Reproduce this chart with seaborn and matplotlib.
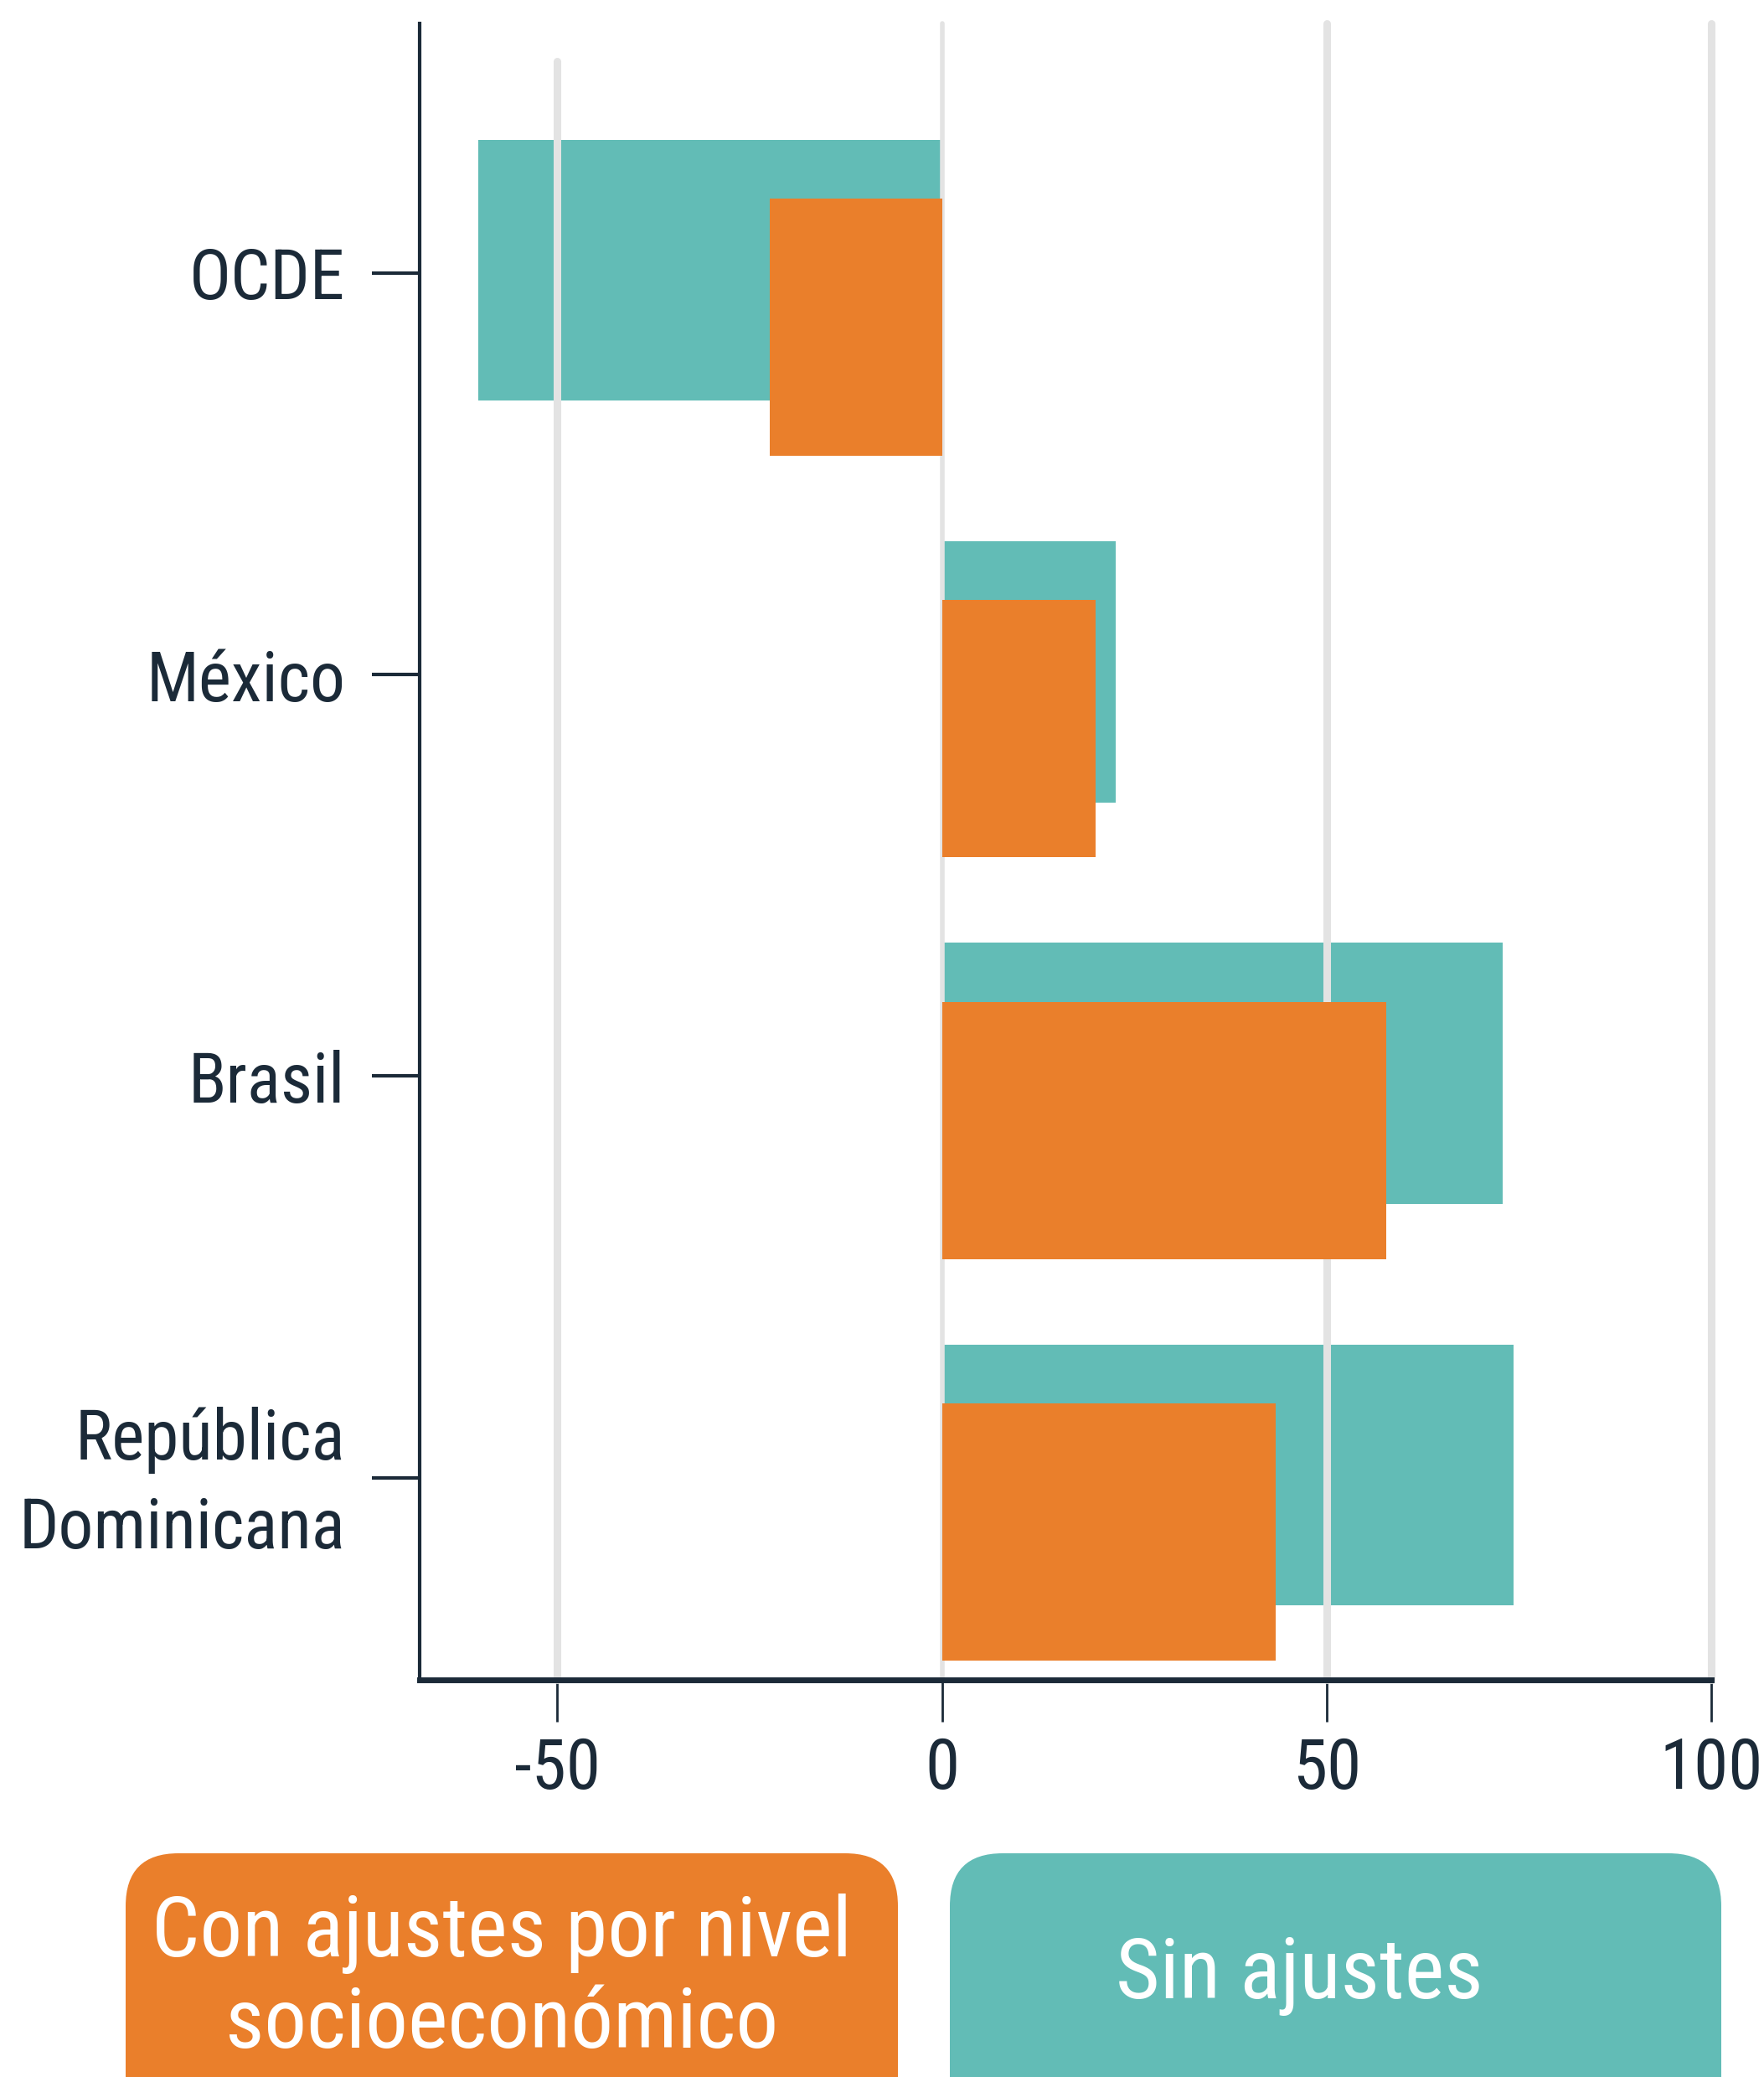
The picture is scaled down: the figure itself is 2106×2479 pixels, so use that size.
import matplotlib
matplotlib.use("Agg")
import matplotlib.pyplot as plt
from matplotlib import font_manager
from matplotlib.patches import FancyBboxPatch
from matplotlib.transforms import ScaledTranslation
import pandas as pd
import seaborn as sns

# data
categories = ["OCDE", "México", "Brasil", "República\nDominicana"]
sin_ajustes = [-60.3, 22.6, 72.9, 74.3]
con_ajustes = [-22.4, 20.0, 57.8, 43.4]
x_ticks = [-50, 0, 50, 100]
legend_labels = ["Con ajustes por nivel\nsocioeconómico", "Sin ajustes"]

teal = "#62bcb6"
orange = "#ea7f2b"
navy = "#1b2a38"
grid_grey = "#e3e3e3"

sns.set_theme(style="white")
names = {f.name for f in font_manager.fontManager.ttflist}
font = next((n for n in ["Roboto Condensed", "Liberation Sans Narrow", "Roboto"] if n in names), "DejaVu Sans")
plt.rcParams["font.family"] = [font, "DejaVu Sans"]

fig = plt.figure(figsize=(21.06, 24.79), dpi=100)
ax = fig.add_axes([0.2379, 0.1912, 0.9701 - 0.2379, 0.9887 - 0.1912])

df = pd.DataFrame({"pais": categories, "sin": sin_ajustes, "con": con_ajustes})
sns.barplot(data=df, x="sin", y="pais", orient="h", color=teal, saturation=1,
            width=0.65, linewidth=0, ax=ax, zorder=1)
sns.barplot(data=df, x="con", y="pais", orient="h", color=orange, saturation=1,
            width=0.64, linewidth=0, ax=ax, zorder=3)
n = len(categories)
for p in ax.patches[:n]:
    p.set_y(p.get_y() - 0.007)
# orange bars sit a bit lower than the teal ones
for p in ax.patches[n:]:
    p.set_y(p.get_y() + 0.135)

# grid lines between the two bar layers
for v in x_ticks:
    ax.axvline(v, color=grid_grey, lw=6.5 if v else 4, zorder=2, clip_on=False,
               ymax=0.977 if v == -50 else 1)

ax.set_xlim(-67.9, 100)
ax.set_ylim(3.503, -0.621)
ax.set_xticks(x_ticks)
ax.set_xticklabels([str(v) for v in x_ticks])
ax.set_xlabel("")
ax.set_ylabel("")

ax.tick_params(axis="y", left=True, length=41, width=3, color=navy, pad=23,
               labelsize=60, labelcolor=navy)
ax.tick_params(axis="x", bottom=True, length=36, width=2, color=navy, pad=12,
               labelsize=60, labelcolor=navy)
ax.xaxis.get_major_ticks()[1].tick1line.set_color(grid_grey)
for lbl in ax.get_yticklabels():
    if "\n" in lbl.get_text():
        lbl.set_linespacing(1.42)
        lbl.set_verticalalignment("center")
        lbl.set_transform(lbl.get_transform() + ScaledTranslation(0, -0.08, fig.dpi_scale_trans))

ax.spines[["top", "right"]].set_visible(False)
ax.spines["left"].set_linewidth(3)
ax.spines["left"].set_color(navy)
ax.spines["bottom"].set_linewidth(5)
ax.spines["bottom"].set_color(navy)

# legend boxes, in pixel coords of the whole figure
lax = fig.add_axes([0, 0, 1, 1])
lax.set_xlim(0, 2106)
lax.set_ylim(2479, 0)
lax.set_axis_off()
lax.add_patch(FancyBboxPatch((150, 2212), 922, 400, boxstyle="round,pad=0,rounding_size=63",
                             fc=orange, ec="none"))
lax.add_patch(FancyBboxPatch((1134, 2212), 921, 400, boxstyle="round,pad=0,rounding_size=63",
                             fc=teal, ec="none"))
lax.text(599, 2362, legend_labels[0], ha="center", va="center", color="white",
         fontsize=73, linespacing=1.18)
lax.text(1551, 2358, legend_labels[1], ha="center", va="center", color="white",
         fontsize=73)

fig.savefig("out.png", dpi=100)
